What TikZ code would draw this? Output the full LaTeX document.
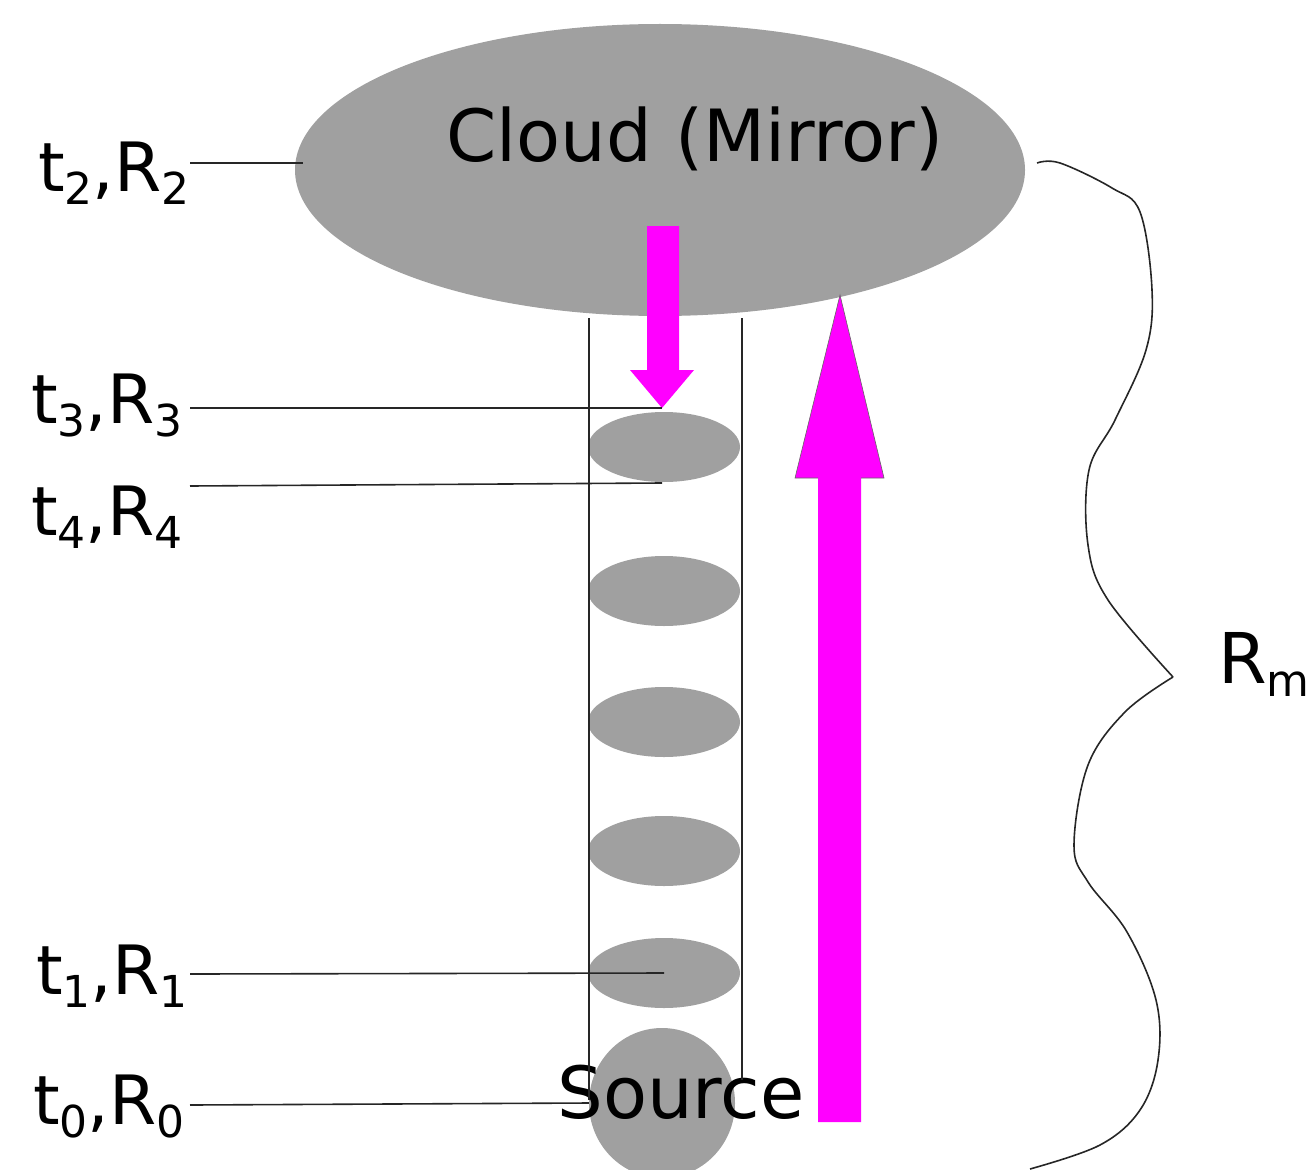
\documentclass[tikz,border=0pt]{standalone}
\usepackage{fontspec}
\setmainfont{DejaVu Sans}
\usetikzlibrary{shapes.geometric, calc, positioning}
\definecolor{cloudgray}{HTML}{A0A0A0}
\definecolor{beam}{HTML}{FF00FF}
\newcommand{\lowidx}[1]{\raisebox{-13pt}{\fontsize{44}{44}\selectfont #1}}
\tikzstyle{blob} = [ellipse, fill=cloudgray, inner sep=0pt]
\tikzstyle{timelabel} = [anchor=base east, inner sep=0pt, font=\fontsize{68}{68}\selectfont]
\tikzstyle{bigtext} = [anchor=base, inner sep=0pt, font=\fontsize{72}{72}\selectfont]
\tikzstyle{thin} = [line width=1.6pt, draw=black!85]
\tikzstyle{pulse} = [fill=beam, draw=none]

\begin{document}
\begin{tikzpicture}[x=1pt, y=-1pt]
		\useasboundingbox (0,0) rectangle (1313,1169);
		
		% the cloud and the column
		\node (Cloud) [blob, minimum width=730pt, minimum height=292pt] at (660,170) {};
		\node (CloudText) [bigtext] at (695,162) {Cloud (Mirror)};
		\node (Source) [blob, minimum width=146pt, minimum height=150pt] at (662,1103) {};
		\node (SourceText) [bigtext] at (681,1118) {Source};
		
		\foreach \y [count=\i] in {447, 591, 722, 851, 973}
		\node (Blob\i) [blob, minimum width=152pt, minimum height=70pt] at (664,\y) {};
		
		\coordinate (TubeLeftTop) at (589,318);
		\coordinate (TubeRightTop) at (742,318);
		\draw [thin] (TubeLeftTop) -- (589,1100);
		\draw [thin] (TubeRightTop) -- (742,1080);
		
		% beams
		\coordinate (DownTip) at (662,408);
		\fill [pulse] (647,226) -- (679,226) -- (679,370) -- (694,370) -- (DownTip) -- (630,370) -- (647,370) -- cycle;
		\coordinate (UpTip) at (840,295);
		\fill [pulse] (818,1122) -- (861,1122) -- (861,478) -- (884,478) -- (UpTip) -- (795,478) -- (818,478) -- cycle;
		\draw [line width=0.6pt, draw=black!60] (861,478) -- (884,478) -- (UpTip) -- (795,478) -- (818,478);
		
		% time labels
		\node (T2) [timelabel] at (190,192) {t\lowidx{2},R\lowidx{2}};
		\node (T3) [timelabel] at (183,423) {t\lowidx{3},R\lowidx{3}};
		\node (T4) [timelabel] at (183,535) {t\lowidx{4},R\lowidx{4}};
		\node (T1) [timelabel] at (188,994) {t\lowidx{1},R\lowidx{1}};
		\node (T0) [timelabel] at (185,1124) {t\lowidx{0},R\lowidx{0}};
		
		\coordinate (CloudEdge) at (303,163);
		\draw [thin] (190,163) -- (CloudEdge);
		\draw [thin] (190,408) -- (DownTip);
		\draw [thin] (190,486) -- (662,483);
		\draw [thin] (190,974) -- (Blob5.center);
		\draw [thin] (190,1105) -- (Source.west);
		
		% wavy brace
		\coordinate (BraceTop) at (1037,163);
		\coordinate (BraceTip) at (1173,677);
		\coordinate (BraceEnd) at (1030,1169);
		\draw [thin] plot [smooth, tension=0.6] coordinates {(BraceTop) (1060,163) (1112,188) (1140,212) (1152,290) (1146,350) (1115,420) (1089,470) (1088,545) (1108,600) (BraceTip)};
		\draw [thin] plot [smooth, tension=0.6] coordinates {(BraceTip) (1125,712) (1088,765) (1074,845) (1088,882) (1127,932) (1156,1000) (1158,1060) (1140,1110) (1100,1145) (BraceEnd)};
		\node (Range) [anchor=base west, inner sep=0pt, font=\fontsize{70}{70}\selectfont] at (1218,683) {R\lowidx{m}};
		
\end{tikzpicture}
\end{document}
